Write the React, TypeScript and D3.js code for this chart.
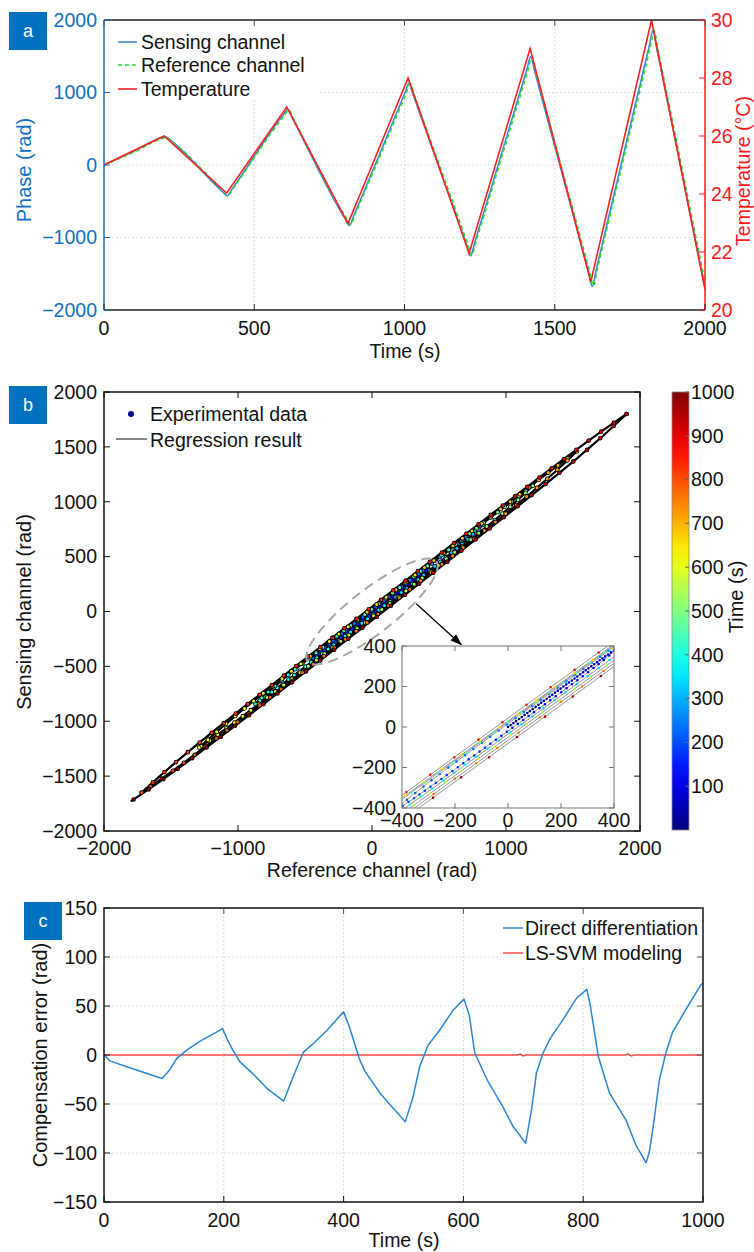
import React from 'react';
import * as d3 from 'd3';

const FONT = '"Liberation Sans", Arial, Helvetica, sans-serif';
const FS = 19.5;
const BOX_BLUE = '#0070C0';

// ---------------- Panel a data ----------------
const aTimeTicks = [0, 500, 1000, 1500, 2000];
const aPhaseTicks = [-2000, -1000, 0, 1000, 2000];
const aTempTicks = [20, 22, 24, 26, 28, 30];
const sensingTime = [0, 100, 190, 205, 220, 395, 410, 425, 598, 612, 625, 803, 817, 830, 1003, 1015, 1028, 1208, 1220, 1233, 1408, 1420, 1433, 1613, 1625, 1638, 1815, 1827, 1840, 2000];
const sensingPhase = [0, 192, 375, 390, 345, -370, -425, -340, 700, 770, 665, -745, -835, -710, 1010, 1130, 980, -1115, -1255, -1080, 1330, 1495, 1295, -1490, -1675, -1445, 1650, 1860, 1595, -1690];
const referenceTime = [0, 104, 194, 209, 224, 399, 414, 429, 602, 616, 629, 807, 821, 834, 1007, 1019, 1032, 1212, 1224, 1237, 1412, 1424, 1437, 1617, 1629, 1642, 1819, 1831, 1844, 2000];
const referencePhase = [0, 185, 365, 380, 335, -360, -415, -330, 690, 760, 655, -735, -825, -700, 1000, 1120, 970, -1105, -1245, -1070, 1320, 1485, 1285, -1480, -1665, -1435, 1640, 1850, 1585, -1610];
const tempTime = [0, 200, 408, 608, 812, 1012, 1215, 1418, 1620, 1822, 2000];
const tempC = [25.0, 26.0, 24.03, 27.0, 22.98, 28.0, 21.95, 29.02, 20.97, 30.0, 20.7];

// ---------------- Panel b data ----------------
const bRefTicks = [-2000, -1000, 0, 1000, 2000];
const bSensTicks = [-2000, -1500, -1000, -500, 0, 500, 1000, 1500, 2000];
const bInsetTicks = [-400, -200, 0, 200, 400];
const bColorTicks = [100, 200, 300, 400, 500, 600, 700, 800, 900, 1000];
// turning points of the hysteresis loops (reference, sensing) and their times
const bPeakRef = [0, 420, -440, 830, -870, 1200, -1290, 1530, -1720, 1900, -1800];
const bPeakSens = [0, 395, -425, 790, -840, 1145, -1240, 1460, -1650, 1800, -1730];
const bPeakTime = [0, 100, 205, 305, 407, 507, 610, 710, 812, 912, 1000];
// offset of each branch away from the loop centre line (rad)
const bSegOffset = [0, -15, 10, -25, 14, -35, 18, -45, 25, -58];
const bGain = 0.95;

// ---------------- Panel c data ----------------
const cTimeTicks = [0, 200, 400, 600, 800, 1000];
const cErrTicks = [-150, -100, -50, 0, 50, 100, 150];
const directTime = [0, 10, 38, 97, 110, 121, 138, 160, 198, 205, 215, 227, 250, 272, 300, 316, 333, 350, 372, 385, 400, 410, 427, 436, 461, 478, 494, 503, 515, 527, 541, 560, 583, 601, 610, 619, 641, 666, 683, 704, 714, 722, 733, 745, 763, 789, 806, 812, 825, 844, 872, 888, 905, 910, 916, 927, 938, 949, 971, 997, 1000];
const directErr = [0, -6, -12, -24, -15, -4, 5, 14, 27, 17, 5, -7, -20, -34, -47, -22, 3, 12, 25, 34, 44, 28, -5, -17, -39, -51, -62, -68, -45, -12, 10, 25, 46, 57, 40, 2, -27, -53, -73, -90, -55, -18, 2, 17, 33, 58, 67, 50, -1, -39, -67, -92, -110, -100, -77, -26, 2, 23, 46, 72, 73];
const lssvmTime = [0, 690, 695, 700, 705, 870, 875, 880, 885, 1000];
const lssvmErr = [0, 0, 1, -1, 0, 0, 1, -1, 0, 0];

function jet(v: number): string {
  const f = (x: number) => Math.max(0, Math.min(1, x));
  const r = f(1.5 - Math.abs(4 * v - 3));
  const g = f(1.5 - Math.abs(4 * v - 2));
  const b = f(1.5 - Math.abs(4 * v - 1));
  return d3.rgb(r * 255, g * 255, b * 255).formatHex();
}

function LabelBox({ x, y, t }: { x: number; y: number; t: string }) {
  return (
    <g>
      <rect x={x} y={y} width={38} height={38} fill={BOX_BLUE} />
      <text x={x + 19} y={y + 19} dy="0.35em" textAnchor="middle" fill="#fff" fontSize={18}>{t}</text>
    </g>
  );
}

export default function App() {
  // ---------- Panel a scales ----------
  const xa = d3.scaleLinear().domain([0, 2000]).range([104, 705]);
  const ya = d3.scaleLinear().domain([-2000, 2000]).range([310, 20]);
  const yt = d3.scaleLinear().domain([20, 30]).range([310, 20]);
  const AXB = '#1270c4';
  const AXR = '#ff1a1a';
  const lineMono = d3.line<[number, number]>().x(d => xa(d[0])).y(d => ya(d[1])).curve(d3.curveMonotoneX);
  const sensPath = lineMono(sensingTime.map((t, i) => [t, sensingPhase[i]]))!;
  const refPath = lineMono(referenceTime.map((t, i) => [t, referencePhase[i]]))!;
  const tempPath = d3.line<[number, number]>().x(d => xa(d[0])).y(d => yt(d[1]))(tempTime.map((t, i) => [t, tempC[i]]))!;

  // ---------- Panel b scales ----------
  const xb = d3.scaleLinear().domain([-2000, 2000]).range([104, 640]);
  const yb = d3.scaleLinear().domain([-2000, 2000]).range([831, 392]);
  const xi = d3.scaleLinear().domain([-400, 400]).range([402, 614]);
  const yi = d3.scaleLinear().domain([-400, 400]).range([808, 646]);
  const yc = d3.scaleLinear().domain([0, 1000]).range([830, 392]);

  const segs = d3.range(bPeakRef.length - 1).map(i => {
    const r0 = bPeakRef[i], r1 = bPeakRef[i + 1];
    const off = bSegOffset[i];
    const fr = [0, 0.1, 0.9, 1];
    const pts: [number, number][] = fr.map((f, k) => {
      const r = r0 + (r1 - r0) * f;
      if (k === 0) return [r0, bPeakSens[i]];
      if (k === fr.length - 1) return [r1, bPeakSens[i + 1]];
      return [r, bGain * r + off];
    });
    return { i, r0, r1, s0: bPeakSens[i], s1: bPeakSens[i + 1], t0: bPeakTime[i], t1: bPeakTime[i + 1], pts };
  });

  const renderScatter = (xs: d3.ScaleLinear<number, number>, ys: d3.ScaleLinear<number, number>, pre: string,
    lineColor: string, lineW: number, dotW: number, edge: number) => {
    const defs: JSX.Element[] = [];
    const lines: JSX.Element[] = [];
    const dots: JSX.Element[] = [];
    const gen = d3.line<[number, number]>().x(d => xs(d[0])).y(d => ys(d[1])).curve(d3.curveCatmullRom.alpha(0.5));
    segs.forEach(s => {
      const x1 = xs(s.r0), y1 = ys(s.s0), x2 = xs(s.r1), y2 = ys(s.s1);
      const L = Math.hypot(x2 - x1, y2 - y1);
      const spacing = (L * 2.5) / (s.t1 - s.t0);
      const gid = `${pre}-g${s.i}`;
      const d = gen(s.pts)!;
      defs.push(
        <linearGradient key={gid} id={gid} gradientUnits="userSpaceOnUse" x1={x1} y1={y1} x2={x2} y2={y2}>
          {[0, 0.25, 0.5, 0.75, 1].map(o => (
            <stop key={o} offset={o} stopColor={jet((s.t0 + (s.t1 - s.t0) * o) / 1000)} />
          ))}
        </linearGradient>
      );
      lines.push(<path key={`l${s.i}`} d={d} fill="none" stroke={lineColor} strokeWidth={lineW} />);
      if (edge > 0) {
        dots.push(
          <path key={`e${s.i}`} d={d} fill="none" stroke="#000" strokeWidth={dotW + edge}
            strokeLinecap="round" strokeDasharray={`0 ${spacing.toFixed(2)}`} />
        );
      }
      dots.push(
        <path key={`d${s.i}`} d={d} fill="none" stroke={`url(#${gid})`} strokeWidth={dotW}
          strokeLinecap="round" strokeDasharray={`0 ${spacing.toFixed(2)}`} />
      );
    });
    return { defs, lines, dots };
  };
  const mainSc = renderScatter(xb, yb, 'm', '#000', 2.2, 3.0, 1.6);
  const insSc = renderScatter(xi, yi, 'n', '#8a8a8a', 0.9, 2.6, 0);

  // ellipse annotation
  const ecx = xb(0), ecy = yb(0);
  const ex = xb(480), ey = yb(bGain * 480);
  const erx = Math.hypot(ex - ecx, ey - ecy);
  const eang = (Math.atan2(ey - ecy, ex - ecx) * 180) / Math.PI;

  // ---------- Panel c scales ----------
  const xc = d3.scaleLinear().domain([0, 1000]).range([104, 703]);
  const ycc = d3.scaleLinear().domain([-150, 150]).range([1202, 908]);
  const lc = d3.line<[number, number]>().x(d => xc(d[0])).y(d => ycc(d[1]));
  const directPath = lc(directTime.map((t, i) => [t, directErr[i]]))!;
  const lssvmPath = lc(lssvmTime.map((t, i) => [t, lssvmErr[i]]))!;

  const GRID = '#dedede';
  const T = 6;

  return (
    <svg width={754} height={1252} style={{ position: 'absolute', left: 0, top: 0, background: '#fff' }} fontFamily={FONT}>
      <defs>
        <clipPath id="clipA"><rect x={104} y={20} width={601} height={290} /></clipPath>
        <clipPath id="clipB"><rect x={104} y={392} width={536} height={439} /></clipPath>
        <clipPath id="clipI"><rect x={402} y={646} width={212} height={162} /></clipPath>
        <clipPath id="clipC"><rect x={104} y={908} width={599} height={294} /></clipPath>
        <linearGradient id="cbar" x1="0" y1="1" x2="0" y2="0">
          {d3.range(0, 1.0001, 0.05).map(o => <stop key={o} offset={o} stopColor={jet(o)} />)}
        </linearGradient>
        <marker id="arrow" viewBox="0 0 10 10" refX={9} refY={5} markerWidth={9} markerHeight={9} orient="auto">
          <path d="M0,1.5 L10,5 L0,8.5 z" fill="#000" />
        </marker>
        {mainSc.defs}
        {insSc.defs}
      </defs>

      {/* ================= Panel a ================= */}
      <g>
        {aTimeTicks.slice(1, -1).map(t => (
          <line key={`gx${t}`} x1={xa(t)} x2={xa(t)} y1={20} y2={310} stroke={GRID} strokeDasharray="2 2" />
        ))}
        {aPhaseTicks.slice(1, -1).map(v => (
          <line key={`gy${v}`} x1={104} x2={705} y1={ya(v)} y2={ya(v)} stroke={GRID} strokeDasharray="2 2" />
        ))}
        <rect x={106} y={22} width={214} height={78} fill="#fff" />
        <g clipPath="url(#clipA)">
          <path d={sensPath} fill="none" stroke="#3a8dd6" strokeWidth={1.6} />
          <path d={refPath} fill="none" stroke="#22dd22" strokeWidth={1.4} strokeDasharray="4 3" />
          <path d={tempPath} fill="none" stroke="#ff2020" strokeWidth={1.6} />
        </g>
        {/* axes */}
        <line x1={104} x2={705} y1={20} y2={20} stroke="#222" strokeWidth={1.5} />
        <line x1={104} x2={705} y1={310} y2={310} stroke="#222" strokeWidth={1.5} />
        <line x1={104} x2={104} y1={20} y2={310} stroke={AXB} strokeWidth={1.5} />
        <line x1={705} x2={705} y1={20} y2={310} stroke={AXR} strokeWidth={1.5} />
        {aTimeTicks.map(t => (
          <g key={`ax${t}`}>
            <line x1={xa(t)} x2={xa(t)} y1={310} y2={310 - T} stroke="#222" />
            <line x1={xa(t)} x2={xa(t)} y1={20} y2={20 + T} stroke="#555" />
            <text x={xa(t)} y={328} dy="0.35em" textAnchor="middle" fontSize={FS} fill="#111">{t}</text>
          </g>
        ))}
        {aPhaseTicks.map(v => (
          <g key={`ay${v}`}>
            <line x1={104} x2={104 + T} y1={ya(v)} y2={ya(v)} stroke={AXB} />
            <text x={97} y={ya(v)} dy="0.35em" textAnchor="end" fontSize={FS} fill={AXB}>{v < 0 ? `\u2212${-v}` : v}</text>
          </g>
        ))}
        {aTempTicks.map(v => (
          <g key={`at${v}`}>
            <line x1={705} x2={705 - T} y1={yt(v)} y2={yt(v)} stroke={AXR} />
            <text x={711} y={yt(v)} dy="0.35em" textAnchor="start" fontSize={FS} fill={AXR}>{v}</text>
          </g>
        ))}
        <text x={405} y={351} dy="0.35em" textAnchor="middle" fontSize={FS} fill="#111">Time (s)</text>
        <text transform={`translate(24,170) rotate(-90)`} dy="0.35em" textAnchor="middle" fontSize={20} fill={AXB}>Phase (rad)</text>
        <text transform={`translate(743,171) rotate(-90)`} dy="0.35em" textAnchor="middle" fontSize={19.5} fill={AXR}>Temperature (°C)</text>
        {/* legend */}
        <line x1={118} x2={137} y1={42} y2={42} stroke="#3a8dd6" strokeWidth={1.6} />
        <line x1={118} x2={137} y1={65} y2={65} stroke="#22dd22" strokeWidth={1.4} strokeDasharray="4 3" />
        <line x1={118} x2={137} y1={89} y2={89} stroke="#ff2020" strokeWidth={1.6} />
        <text x={141} y={42} dy="0.35em" fontSize={FS} fill="#111">Sensing channel</text>
        <text x={141} y={65} dy="0.35em" fontSize={FS} fill="#111">Reference channel</text>
        <text x={141} y={89} dy="0.35em" fontSize={FS} fill="#111">Temperature</text>
        <LabelBox x={9} y={12} t="a" />
      </g>

      {/* ================= Panel b ================= */}
      <g>
        <g clipPath="url(#clipB)">
          {mainSc.lines}
          {mainSc.dots}
        </g>
        <ellipse cx={ecx} cy={ecy} rx={erx} ry={22} transform={`rotate(${eang} ${ecx} ${ecy})`} fill="none"
          stroke="#a8a8a8" strokeWidth={2} strokeDasharray="10 6" />
        <line x1={xb(330)} y1={yb(70)} x2={xb(665)} y2={yb(-300)} stroke="#000" strokeWidth={1.3} markerEnd="url(#arrow)" />
        <rect x={104} y={392} width={536} height={439} fill="none" stroke="#111" strokeWidth={1.5} />
        {bRefTicks.map(v => (
          <g key={`bx${v}`}>
            <line x1={xb(v)} x2={xb(v)} y1={831} y2={831 - T} stroke="#111" />
            <line x1={xb(v)} x2={xb(v)} y1={392} y2={392 + T} stroke="#111" />
            <text x={xb(v)} y={848} dy="0.35em" textAnchor="middle" fontSize={FS} fill="#111">{v < 0 ? `\u2212${-v}` : v}</text>
          </g>
        ))}
        {bSensTicks.map(v => (
          <g key={`by${v}`}>
            <line x1={104} x2={104 + T} y1={yb(v)} y2={yb(v)} stroke="#111" />
            <line x1={640} x2={640 - T} y1={yb(v)} y2={yb(v)} stroke="#111" />
            <text x={97} y={yb(v)} dy="0.35em" textAnchor="end" fontSize={FS} fill="#111">{v < 0 ? `\u2212${-v}` : v}</text>
          </g>
        ))}
        <text x={372} y={870} dy="0.35em" textAnchor="middle" fontSize={FS} fill="#111">Reference channel (rad)</text>
        <text transform={`translate(24,612) rotate(-90)`} dy="0.35em" textAnchor="middle" fontSize={20} fill="#111">Sensing channel (rad)</text>
        {/* legend */}
        <circle cx={131} cy={414} r={3} fill="#00008b" />
        <line x1={116} x2={147} y1={439} y2={439} stroke="#333" strokeWidth={1.2} />
        <text x={150} y={414} dy="0.35em" fontSize={FS} fill="#111">Experimental data</text>
        <text x={150} y={440} dy="0.35em" fontSize={FS} fill="#111">Regression result</text>

        {/* inset */}
        <rect x={402} y={646} width={212} height={162} fill="#fff" />
        <g clipPath="url(#clipI)">
          {insSc.lines}
          {insSc.dots}
        </g>
        <rect x={402} y={646} width={212} height={162} fill="none" stroke="#8a8a8a" strokeWidth={1.2} />
        {bInsetTicks.map(v => (
          <g key={`ix${v}`}>
            <line x1={xi(v)} x2={xi(v)} y1={808} y2={803} stroke="#777" />
            <line x1={xi(v)} x2={xi(v)} y1={646} y2={651} stroke="#777" />
            <line x1={402} x2={407} y1={yi(v)} y2={yi(v)} stroke="#777" />
            <line x1={614} x2={609} y1={yi(v)} y2={yi(v)} stroke="#777" />
            <text x={xi(v)} y={820} dy="0.35em" textAnchor="middle" fontSize={FS} fill="#111">{v < 0 ? `\u2212${-v}` : v}</text>
            <text x={396} y={yi(v)} dy="0.35em" textAnchor="end" fontSize={FS} fill="#111">{v < 0 ? `\u2212${-v}` : v}</text>
          </g>
        ))}

        {/* colorbar */}
        <rect x={672} y={392} width={17} height={438} fill="url(#cbar)" stroke="#888" strokeWidth={0.8} />
        {bColorTicks.map(v => (
          <g key={`cb${v}`}>
            <line x1={689} x2={685} y1={yc(v)} y2={yc(v)} stroke="#666" />
            <text x={691} y={yc(v)} dy="0.35em" fontSize={FS} fill="#111">{v}</text>
          </g>
        ))}
        <text transform={`translate(736,597) rotate(-90)`} dy="0.35em" textAnchor="middle" fontSize={20} fill="#111">Time (s)</text>
        <LabelBox x={9} y={386} t="b" />
      </g>

      {/* ================= Panel c ================= */}
      <g>
        {cTimeTicks.slice(1, -1).map(t => (
          <line key={`cgx${t}`} x1={xc(t)} x2={xc(t)} y1={908} y2={1202} stroke={GRID} strokeDasharray="2 2" />
        ))}
        {cErrTicks.slice(1, -1).map(v => (
          <line key={`cgy${v}`} x1={104} x2={703} y1={ycc(v)} y2={ycc(v)} stroke={GRID} strokeDasharray="2 2" />
        ))}
        <rect x={498} y={910} width={203} height={56} fill="#fff" />
        <g clipPath="url(#clipC)">
          <path d={lssvmPath} fill="none" stroke="#ff4a4a" strokeWidth={1.5} />
          <path d={directPath} fill="none" stroke="#2a86d6" strokeWidth={1.5} strokeLinejoin="round" />
        </g>
        <rect x={104} y={908} width={599} height={294} fill="none" stroke="#111" strokeWidth={1.5} />
        {cTimeTicks.map(t => (
          <g key={`cx${t}`}>
            <line x1={xc(t)} x2={xc(t)} y1={1202} y2={1202 - T} stroke="#111" />
            <line x1={xc(t)} x2={xc(t)} y1={908} y2={908 + T} stroke="#555" />
            <text x={xc(t)} y={1220} dy="0.35em" textAnchor="middle" fontSize={FS} fill="#111">{t}</text>
          </g>
        ))}
        {cErrTicks.map(v => (
          <g key={`cy${v}`}>
            <line x1={104} x2={104 + T} y1={ycc(v)} y2={ycc(v)} stroke="#111" />
            <line x1={703} x2={703 - T} y1={ycc(v)} y2={ycc(v)} stroke="#555" />
            <text x={97} y={ycc(v)} dy="0.35em" textAnchor="end" fontSize={FS} fill="#111">{v < 0 ? `\u2212${-v}` : v}</text>
          </g>
        ))}
        <text x={404} y={1240} dy="0.35em" textAnchor="middle" fontSize={FS} fill="#111">Time (s)</text>
        <text transform={`translate(40,1055) rotate(-90)`} dy="0.35em" textAnchor="middle" fontSize={20} fill="#111">Compensation error (rad)</text>
        <line x1={503} x2={523} y1={928} y2={928} stroke="#2a86d6" strokeWidth={1.5} />
        <line x1={503} x2={523} y1={953} y2={953} stroke="#ff4a4a" strokeWidth={1.5} />
        <text x={525} y={928} dy="0.35em" fontSize={FS} fill="#111">Direct differentiation</text>
        <text x={525} y={953} dy="0.35em" fontSize={FS} fill="#111">LS-SVM modeling</text>
        <LabelBox x={24} y={902} t="c" />
      </g>
    </svg>
  );
}
